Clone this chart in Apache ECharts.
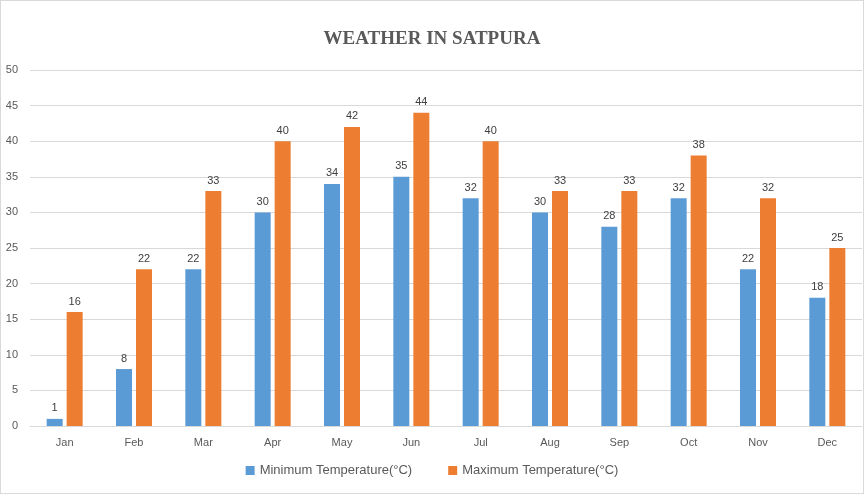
<!DOCTYPE html>
<html><head><meta charset="utf-8">
<script src="https://cdn.jsdelivr.net/npm/echarts@6/dist/echarts.min.js"></script>
<style>html,body{margin:0;padding:0;background:#fff}#c{width:864px;height:494px;box-sizing:border-box;border:1px solid #d9d9d9}</style>
</head><body><div id="c"></div>
<script>
const months = ['Jan','Feb','Mar','Apr','May','Jun','Jul','Aug','Sep','Oct','Nov','Dec'];
const minTemp = [1,8,22,30,34,35,32,30,28,32,22,18];
const maxTemp = [16,22,33,40,42,44,40,33,33,38,32,25];
const chart = echarts.init(document.getElementById('c'));
const lbl = {show:true, position:'top', color:'#404040', fontSize:11, fontFamily:'Liberation Sans', distance:5};
chart.setOption({
  animation:false,
  title:{text:'WEATHER IN SATPURA', left:'center', top:24, textStyle:{fontFamily:'Liberation Serif', fontWeight:'bold', fontSize:19, color:'#595959'}},
  legend:{bottom:11, itemWidth:9, itemHeight:9, itemGap:36, icon:'rect', textStyle:{color:'#595959', fontSize:13, fontFamily:'Liberation Sans'}},
  grid:{left:29, right:1, top:69, bottom:67},
  xAxis:{type:'category', data:months, axisTick:{show:false}, axisLine:{lineStyle:{color:'#d9d9d9'}}, axisLabel:{color:'#595959', fontSize:11, margin:11, fontFamily:'Liberation Sans'}},
  yAxis:{type:'value', min:0, max:50, interval:5, axisLabel:{color:'#595959', fontSize:11, margin:12, fontFamily:'Liberation Sans'}, splitLine:{lineStyle:{color:'#d9d9d9'}}},
  series:[
    {name:'Minimum Temperature(°C)', type:'bar', data:minTemp, barWidth:16, barGap:'25%', itemStyle:{color:'#5b9bd5'}, label:lbl},
    {name:'Maximum Temperature(°C)', type:'bar', data:maxTemp, barWidth:16, itemStyle:{color:'#ed7d31'}, label:lbl}
  ]
});
</script></body></html>
